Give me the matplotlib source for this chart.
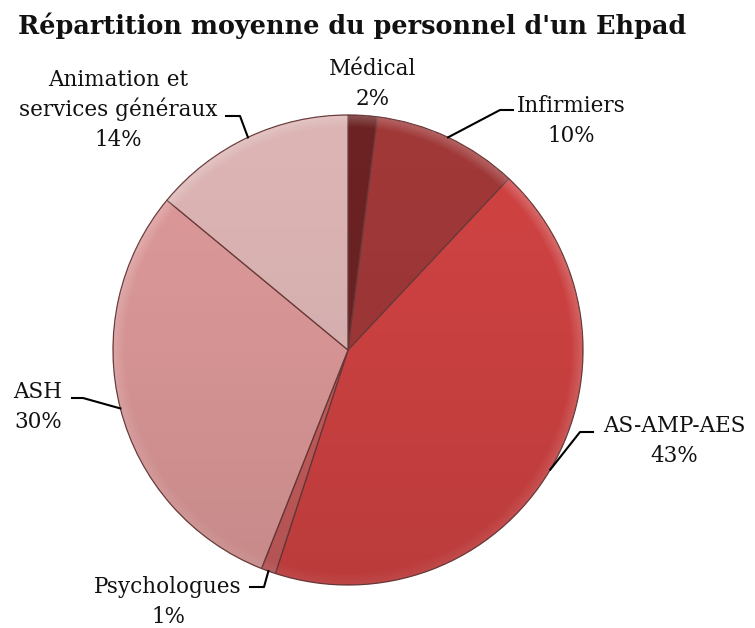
import matplotlib
matplotlib.use("Agg")
import matplotlib.pyplot as plt
from matplotlib.patches import Circle
import numpy as np

categories = ["Médical", "Infirmiers", "AS-AMP-AES", "Psychologues", "ASH",
              "Animation et\nservices généraux"]
values = [2, 10, 43, 1, 30, 14]
colors = ["#6c2222", "#a03838", "#cf4242", "#c65c5c", "#dc9898", "#dcb4b4"]
title = "Répartition moyenne du personnel d'un Ehpad"

W, H = 755, 628
fig = plt.figure(figsize=(W / 100, H / 100), dpi=100)
ax = fig.add_axes([0, 0, 1, 1])

cx, cy, R = 348, H - 350, 235
wedges, _ = ax.pie(values, colors=colors, startangle=90, counterclock=False,
                   center=(cx, cy), radius=R, frame=True,
                   wedgeprops=dict(edgecolor="#6a3a3a", linewidth=0.9))
ax.set_xlim(0, W)
ax.set_ylim(0, H)
ax.set_aspect("equal")
ax.axis("off")

# subtle bevel-like shading: light rim, slight darkening toward the bottom
n = 500
gx = np.linspace(cx - R, cx + R, n)
gy = np.linspace(cy - R, cy + R, n)
GX, GY = np.meshgrid(gx, gy)
r = np.hypot(GX - cx, GY - cy)
t = (GY - (cy - R)) / (2 * R)
dark = np.zeros((n, n, 4))
dark[..., 3] = 0.10 * (1 - t) ** 1.5
light = np.ones((n, n, 4))
rim = np.clip((r - (R - 12)) / 12, 0, 1) * (r <= R)
light[..., 3] = 0.22 * rim * np.clip(0.3 + t, 0, 1)
for arr in (dark, light):
    im = ax.imshow(arr, extent=(cx - R, cx + R, cy - R, cy + R), origin="lower",
                   interpolation="bilinear", zorder=3)
    im.set_clip_path(Circle((cx, cy), R, transform=ax.transData))

serif = ["DejaVu Serif"]
fs = 15.5
step = 30

# text centre x, first baseline y (pixels from top), leader elbow points
layout = {
    0: dict(tx=373, ty=75, line=None),
    1: dict(tx=571, ty=112, line=[(500, 110), (513, 110)]),
    2: dict(tx=674, ty=432, line=[(580, 432), (593, 432)]),
    3: dict(tx=168, ty=593, line=[(264, 587), (250, 587)]),
    4: dict(tx=38, ty=398, line=[(83, 398), (72, 398)]),
    5: dict(tx=118, ty=86, line=[(240, 116), (226, 116)]),
}

cum = np.cumsum([0] + values)
total = sum(values)
for i, (cat, v) in enumerate(zip(categories, values)):
    mid = (cum[i] + v / 2) / total * 360.0
    ang = np.deg2rad(90 - mid)
    ex, ey = cx + R * np.cos(ang), cy + R * np.sin(ang)
    L = layout[i]
    lines = cat.split("\n") + [f"{v}%"]
    for k, s in enumerate(lines):
        ax.text(L["tx"], H - (L["ty"] + k * step), s, ha="center",
                va="baseline", fontsize=fs, family=serif, color="#111111")
    if L["line"]:
        xs = [ex] + [p[0] for p in L["line"]]
        ys = [ey] + [H - p[1] for p in L["line"]]
        ax.plot(xs, ys, color="black", lw=1.5, zorder=4)

fig.text(18 / W, 1 - 34 / H, title, ha="left", va="baseline", fontsize=18.4,
         fontweight="bold", family=serif, color="#111111")

fig.savefig("out.png", dpi=100)
